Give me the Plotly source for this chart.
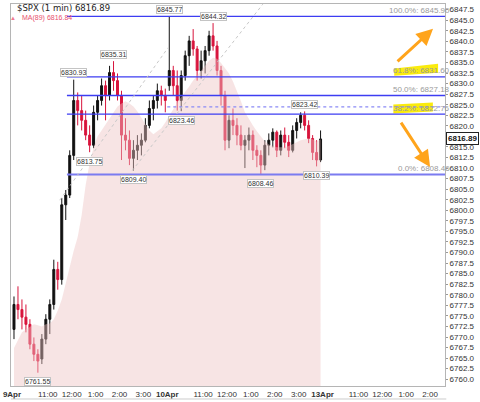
import plotly.graph_objects as go

# ---------------- data (10-minute bars) ----------------
# bar start, minutes since 9 Apr 09:30 (a session is 390 minutes; 10 Apr starts at 390)
bar_start = [d * 390 + k * 10 for d in range(2) for k in range(39)]

opens = [6771.8, 6777.7, 6776.5, 6774.7, 6773.0, 6768.3, 6765.9, 6764.8, 6769.5, 6774.2,
         6777.7, 6786.0, 6783.6, 6801.3, 6803.6, 6813.0, 6826.0, 6823.6, 6821.3, 6817.8,
         6815.4, 6823.2, 6826.0, 6829.5, 6827.2, 6832.6, 6830.7, 6827.2, 6817.8, 6816.6,
         6812.3, 6814.2, 6815.4, 6816.6, 6820.1, 6824.1, 6826.0, 6828.3, 6827.2,
         6829.5, 6833.1, 6829.5, 6826.0, 6831.9, 6836.6, 6840.1, 6838.2, 6833.1, 6835.4,
         6837.8, 6841.3, 6838.9, 6833.1, 6827.2, 6816.6, 6821.3, 6820.1, 6817.8, 6815.4,
         6816.6, 6817.8, 6814.2, 6813.0, 6810.7, 6815.4, 6816.6, 6818.5, 6814.2, 6817.8,
         6816.1, 6814.2, 6818.9, 6820.8, 6822.5, 6820.1, 6817.0, 6813.7, 6811.9]
highs = [6779.6, 6782.0, 6778.9, 6777.7, 6774.2, 6769.9, 6767.1, 6770.7, 6775.4, 6778.9,
         6788.3, 6787.8, 6802.9, 6804.8, 6814.2, 6830.93, 6827.9, 6827.2, 6823.6, 6820.1,
         6824.8, 6827.2, 6831.2, 6830.7, 6834.2, 6835.31, 6832.4, 6828.3, 6821.8, 6818.9,
         6816.6, 6817.8, 6818.2, 6821.8, 6826.0, 6827.2, 6830.0, 6829.5, 6828.8,
         6845.77, 6834.2, 6833.1, 6833.1, 6837.8, 6841.3, 6842.9, 6838.9, 6837.8, 6838.9,
         6842.5, 6844.32, 6840.1, 6834.2, 6828.3, 6822.5, 6824.1, 6821.8, 6820.1, 6817.8,
         6819.6, 6818.9, 6815.4, 6814.2, 6816.6, 6818.2, 6819.4, 6818.9, 6818.9, 6819.6,
         6817.8, 6820.1, 6821.8, 6823.2, 6823.42, 6821.3, 6817.8, 6816.6, 6818.9]
lows = [6769.5, 6774.2, 6771.8, 6771.1, 6767.1, 6764.3, 6761.55, 6763.6, 6768.3, 6770.7,
        6776.5, 6781.2, 6782.4, 6797.7, 6802.9, 6811.9, 6820.1, 6818.9, 6816.6, 6813.75,
        6814.7, 6821.3, 6824.8, 6821.3, 6826.0, 6828.3, 6826.0, 6811.9, 6814.2, 6810.7,
        6809.40, 6811.9, 6813.0, 6816.1, 6819.4, 6821.3, 6824.1, 6824.8, 6823.2,
        6828.3, 6827.2, 6823.6, 6823.46, 6830.7, 6834.2, 6836.6, 6830.7, 6831.2, 6832.4,
        6836.6, 6837.8, 6831.9, 6824.8, 6814.2, 6814.7, 6817.8, 6815.4, 6814.2, 6810.0,
        6814.2, 6811.9, 6810.2, 6808.46, 6809.5, 6813.0, 6814.9, 6812.6, 6813.0, 6814.7,
        6812.6, 6813.7, 6817.0, 6819.4, 6818.9, 6815.9, 6811.9, 6810.39, 6811.4]
closes = [6777.7, 6776.5, 6774.7, 6773.0, 6768.3, 6765.9, 6764.3, 6769.5, 6774.2, 6777.7,
          6786.0, 6783.6, 6801.3, 6803.6, 6813.0, 6826.0, 6823.6, 6821.3, 6817.8, 6815.4,
          6823.2, 6826.0, 6829.5, 6827.2, 6832.6, 6830.7, 6827.2, 6817.8, 6816.6, 6812.3,
          6814.2, 6815.4, 6816.6, 6820.1, 6824.1, 6826.0, 6828.3, 6827.2, 6826.0,
          6833.1, 6829.5, 6826.0, 6831.9, 6836.6, 6840.1, 6838.2, 6833.1, 6835.4, 6837.8,
          6841.3, 6838.9, 6833.1, 6827.2, 6816.6, 6821.3, 6820.1, 6817.8, 6815.4, 6816.6,
          6817.8, 6814.2, 6813.0, 6810.7, 6815.4, 6816.6, 6818.5, 6814.2, 6817.8, 6816.1,
          6814.2, 6818.9, 6820.8, 6822.5, 6820.1, 6817.0, 6813.7, 6811.9, 6816.89]
ma89 = [6767.4, 6769.2, 6771.1, 6771.8, 6772.5, 6773.0, 6772.8, 6772.5, 6773.0, 6773.2,
        6774.2, 6776.3, 6778.9, 6782.9, 6787.1, 6790.4, 6793.7, 6798.9, 6806.0, 6811.2,
        6814.9, 6817.5, 6818.9, 6820.3, 6821.5, 6823.2, 6824.6, 6825.3, 6825.8, 6825.3,
        6824.6, 6823.4, 6821.8, 6820.3, 6818.9, 6818.0, 6818.7, 6819.4, 6820.8,
        6822.2, 6823.9, 6825.5, 6826.7, 6828.1, 6829.3, 6830.7, 6831.9, 6833.1, 6834.2,
        6835.4, 6836.1, 6835.9, 6834.9, 6833.5, 6832.4, 6830.5, 6828.3, 6825.8, 6823.2,
        6821.5, 6820.1, 6818.7, 6817.5, 6816.3, 6815.6, 6815.2, 6814.9, 6814.9, 6814.9,
        6815.2, 6815.6, 6816.1, 6816.6, 6816.8, 6817.0, 6816.8, 6816.3, 6816.84]

# labelled swing highs / lows: (bar index, value, side)
swing_bar = [6, 15, 19, 25, 30, 39, 42, 50, 62, 73, 76]
swing_val = [6761.55, 6830.93, 6813.75, 6835.31, 6809.40, 6845.77, 6823.46, 6844.32, 6808.46, 6823.42, 6810.39]
swing_side = ["low", "high", "low", "high", "low", "high", "low", "high", "low", "high", "low"]

# Fibonacci retracement levels
fib_pct = ["100.0%", "61.8%", "50.0%", "38.2%", "0.0%"]
fib_val = [6845.90, 6831.60, 6827.18, 6822.76, 6808.46]
fib_start_min = 138
dotted_level = 6824.5
dotted_start_min = 390

# dotted trend lines: (start minute, start value, end minute, end value)
trend_lines = [(120, 6802.4, 392, 6838.5), (302, 6809.40, 630, 6848.8)]

tick_min = [0, 90, 150, 210, 270, 330, 390, 480, 540, 600, 660, 720, 780, 870, 930, 990, 1050]
tick_txt = ["<b>9Apr</b>", "11:00", "12:00", "1:00", "2:00", "3:00", "<b>10Apr</b>", "11:00", "12:00",
            "1:00", "2:00", "3:00", "<b>13Apr</b>", "11:00", "12:00", "1:00", "2:00"]

last_price = 6816.89
last_ma = 6816.84
X_RANGE = [-2.5, 1087.5]
Y_RANGE = [6758.4, 6848.84]

FONT = "Liberation Sans, Arial, sans-serif"
bar_mid = [b + 5 for b in bar_start]

fig = go.Figure()
fig.add_trace(go.Scatter(x=bar_mid, y=ma89, mode="lines", line=dict(width=0, color="rgba(235,190,190,0.5)"),
                         fill="tozeroy", fillcolor="rgba(238,196,196,0.45)", hoverinfo="skip", showlegend=False))
fig.add_trace(go.Candlestick(x=bar_mid, open=opens, high=highs, low=lows, close=closes,
                             increasing=dict(line=dict(color="#111111", width=1), fillcolor="#111111"),
                             decreasing=dict(line=dict(color="#d8143c", width=1), fillcolor="#d8143c"),
                             whiskerwidth=0, showlegend=False))

shapes = []
for i, v in enumerate(fib_val):
    shapes.append(dict(type="line", xref="x", yref="y", x0=fib_start_min, x1=X_RANGE[1], y0=v, y1=v,
                       line=dict(color="#7b7bf0" if i == 4 else "#3d3df2", width=2 if i == 4 else 1.3)))
shapes.append(dict(type="line", xref="x", yref="y", x0=dotted_start_min, x1=X_RANGE[1], y0=dotted_level,
                   y1=dotted_level, line=dict(color="#8a8af5", width=1.3, dash="dot")))
for (m0, v0, m1, v1) in trend_lines:
    shapes.append(dict(type="line", xref="x", yref="y", x0=m0, y0=v0, x1=m1, y1=v1,
                       line=dict(color="#c8c8c8", width=1, dash="dot")))
# yellow highlighter marks behind the 61.8% and 38.2% labels
shapes.append(dict(type="path", xref="paper", yref="paper", layer="below",
                   path="M 0.883 0.8125 L 0.883 0.831 L 0.984 0.8438 L 0.984 0.8203 Z",
                   fillcolor="rgba(250,234,0,0.95)", line=dict(width=0)))
shapes.append(dict(type="path", xref="paper", yref="paper", layer="below",
                   path="M 0.881 0.7135 L 0.881 0.737 L 0.972 0.742 L 0.972 0.7187 Z",
                   fillcolor="rgba(250,234,0,0.95)", line=dict(width=0)))
# line under the date axis
shapes.append(dict(type="line", xref="paper", yref="paper", x0=0, x1=1.003, y0=-0.034, y1=-0.034,
                   line=dict(color="#cccccc", width=1)))

ann = []
for b, v, s in zip(swing_bar, swing_val, swing_side):
    ann.append(dict(x=bar_mid[b], y=v, xref="x", yref="y", text=f"{v:.2f}", showarrow=False,
                    yshift=7 if s == "high" else -9, font=dict(family=FONT, size=7, color="#333"),
                    bgcolor="white", bordercolor="#c4c4c4", borderwidth=1, borderpad=0))
for p, v in zip(fib_pct, fib_val):
    ann.append(dict(x=1.016, y=v, xref="paper", yref="y", xanchor="right", yanchor="middle", yshift=6,
                    text=f"{p}: {v:.2f}", showarrow=False, font=dict(family=FONT, size=8, color="#9a9a9a")))
# orange arrows
ann.append(dict(x=0.9725, y=0.935, xref="paper", yref="paper", ax=-37, ay=34, text="", showarrow=True,
                arrowhead=2, arrowsize=1.1, arrowwidth=3, arrowcolor="#ffa41b"))
ann.append(dict(x=0.9656, y=0.573, xref="paper", yref="paper", ax=-30, ay=-46, text="", showarrow=True,
                arrowhead=2, arrowsize=1.1, arrowwidth=3, arrowcolor="#ffa41b"))
# current price tag on the axis
ann.append(dict(x=1.0025, y=last_price, xref="paper", yref="y", xanchor="left", text=f"<b>{last_price:.2f}</b>",
                showarrow=False, font=dict(family=FONT, size=8, color="#111"), bgcolor="white",
                bordercolor="#222", borderwidth=1, borderpad=1))
# chart title lines
ann.append(dict(x=0.009, y=0.99, xref="paper", yref="paper", xanchor="left", yanchor="middle",
                text=f"$SPX (1 min) {last_price:.2f}", showarrow=False,
                font=dict(family="DejaVu Sans", size=8.5, color="#222")))
ann.append(dict(x=-0.006, y=0.963, xref="paper", yref="paper", xanchor="left", yanchor="middle",
                text="▲", showarrow=False, font=dict(family=FONT, size=6, color="#f07890")))
ann.append(dict(x=0.02, y=0.963, xref="paper", yref="paper", xanchor="left", yanchor="middle",
                text=f"MA(89) {last_ma:.2f}", showarrow=False,
                font=dict(family=FONT, size=7, color="#e8506e")))

fig.update_layout(
    width=480, height=402, margin=dict(l=9, r=35, t=3, b=15),
    paper_bgcolor="white", plot_bgcolor="white", showlegend=False,
    shapes=shapes, annotations=ann,
    xaxis=dict(range=X_RANGE, tickvals=tick_min, ticktext=tick_txt, showgrid=False, zeroline=False,
               showline=True, linecolor="#b5b5b5", linewidth=1, mirror=True, ticks="",
               tickfont=dict(family=FONT, size=8, color="#333"), rangeslider=dict(visible=False),
               fixedrange=True),
    yaxis=dict(range=Y_RANGE, side="right", dtick=2.5, tickformat=".1f", showgrid=False, zeroline=False,
               showline=True, linecolor="#b5b5b5", linewidth=1, mirror=True, ticks="outside", ticklen=2,
               tickcolor="#999", tickfont=dict(family=FONT, size=8, color="#333"), fixedrange=True),
)

fig.write_html("out.html")
